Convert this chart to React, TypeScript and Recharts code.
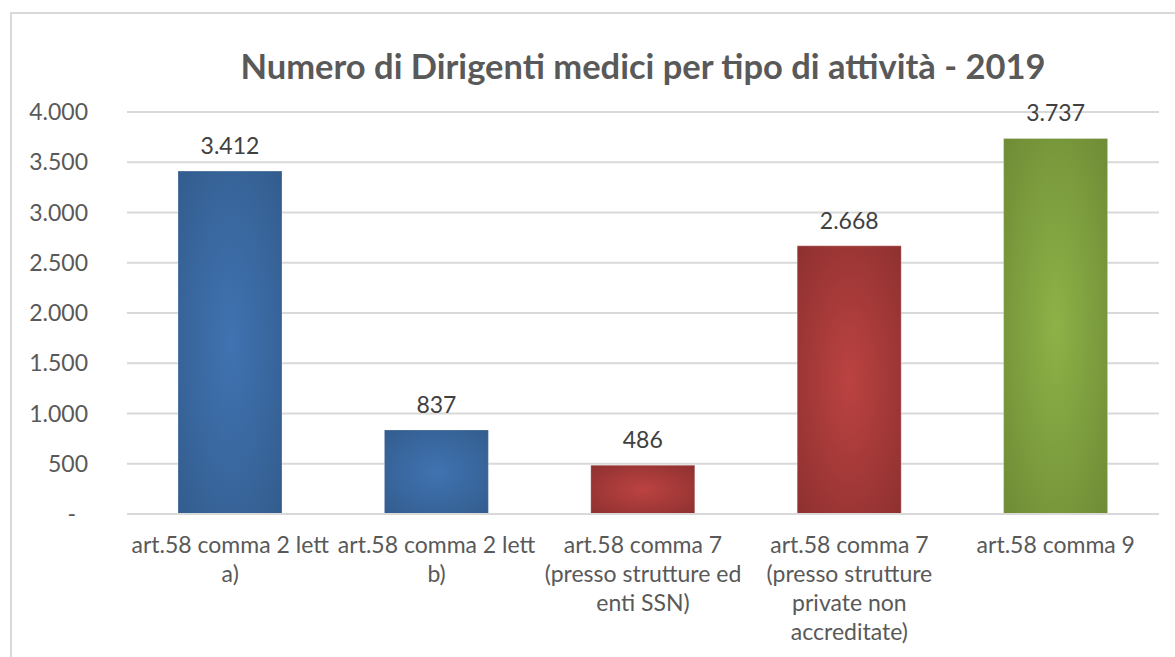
import { BarChart, Bar, XAxis, YAxis, CartesianGrid, Cell, LabelList } from 'recharts';

const categories = [
  'art.58 comma 2 lett a)',
  'art.58 comma 2 lett b)',
  'art.58 comma 7 (presso strutture ed enti SSN)',
  'art.58 comma 7 (presso strutture private non accreditate)',
  'art.58 comma 9',
];

// how each category label wraps under the axis
const categoryLines = [
  ['art.58 comma 2 lett', 'a)'],
  ['art.58 comma 2 lett', 'b)'],
  ['art.58 comma 7', '(presso strutture ed', 'enti SSN)'],
  ['art.58 comma 7', '(presso strutture', 'private non', 'accreditate)'],
  ['art.58 comma 9'],
];

const dirigenti = [3412, 837, 486, 2668, 3737];

const yTicks = [0, 500, 1000, 1500, 2000, 2500, 3000, 3500, 4000];

// [centre, edge] of the radial fill for each bar
const barColors = [
  ['#4073b2', '#325b8b'],
  ['#4073b2', '#325b8b'],
  ['#bb4341', '#8b2f2f'],
  ['#bb4341', '#8b2f2f'],
  ['#8eb247', '#6c8935'],
];

const chartData = categories.map((name, i) => ({ name, value: dirigenti[i] }));

const TEXT = '#595959';
const FONT = 'Lato, "Open Sans", sans-serif';

const formatNum = (v: number) => {
  if (v === 0) return '-';
  return String(v).replace(/\B(?=(\d{3})+(?!\d))/g, '.');
};

const YTick = (props: any) => {
  const { x, y, payload } = props;
  const isZero = payload.value === 0;
  return (
    <text
      x={isZero ? x - 12 : x}
      y={y}
      dy={8}
      textAnchor="end"
      fill={TEXT}
      fontSize={23}
      fontFamily={FONT}
    >
      {formatNum(payload.value)}
    </text>
  );
};

const XTick = (props: any) => {
  const { x, y, index } = props;
  const lines = categoryLines[index] || [];
  return (
    <text x={x} y={y} textAnchor="middle" fill={TEXT} fontSize={23} fontFamily={FONT}>
      {lines.map((line, i) => (
        <tspan key={i} x={x} dy={i === 0 ? 31 : 29}>
          {line}
        </tspan>
      ))}
    </text>
  );
};

export default function App() {
  return (
    <div
      style={{
        position: 'absolute',
        left: 0,
        top: 0,
        width: 1175,
        height: 657,
        background: '#fff',
        overflow: 'hidden',
      }}
    >
      {/* outer chart frame, only top/left edges are visible in the crop */}
      <div
        style={{
          position: 'absolute',
          left: 10,
          top: 12,
          width: 1200,
          height: 700,
          borderLeft: '2px solid #d9d9d9',
          borderTop: '2px solid #d9d9d9',
        }}
      />
      <div
        style={{
          position: 'absolute',
          left: 127,
          top: 49,
          width: 1032,
          textAlign: 'center',
          fontFamily: FONT,
          fontWeight: 700,
          fontSize: 34.5,
          lineHeight: '34px',
          color: TEXT,
        }}
      >
        Numero di Dirigenti medici per tipo di attività - 2019
      </div>
      <div style={{ position: 'absolute', left: 0, top: 0 }}>
        <BarChart
          width={1175}
          height={657}
          data={chartData}
          margin={{ top: 112, right: 16, bottom: 0, left: 0 }}
        >
          <defs>
            {barColors.map(([c, e], i) => (
              <radialGradient key={i} id={`barFill${i}`} cx="50%" cy="50%" r="75%">
                <stop offset="0%" stopColor={c} />
                <stop offset="100%" stopColor={e} />
              </radialGradient>
            ))}
          </defs>
          <CartesianGrid vertical={false} stroke="#d9d9d9" strokeWidth={2} />
          <XAxis
            dataKey="name"
            axisLine={{ stroke: '#d9d9d9', strokeWidth: 2 }}
            tickLine={false}
            tick={<XTick />}
            interval={0}
            height={143}
          />
          <YAxis
            domain={[0, 4000]}
            ticks={yTicks}
            axisLine={false}
            tickLine={false}
            tick={<YTick />}
            width={127}
            tickMargin={33}
          />
          <Bar dataKey="value" barSize={104} isAnimationActive={false}>
            {chartData.map((_, i) => (
              <Cell key={i} fill={`url(#barFill${i})`} stroke="rgba(255,255,255,0.25)" strokeWidth={1} />
            ))}
            <LabelList
              dataKey="value"
              position="top"
              offset={17}
              formatter={(v: any) => formatNum(Number(v))}
              fill="#404040"
              fontSize={23}
              fontFamily={FONT}
            />
          </Bar>
        </BarChart>
      </div>
    </div>
  );
}
